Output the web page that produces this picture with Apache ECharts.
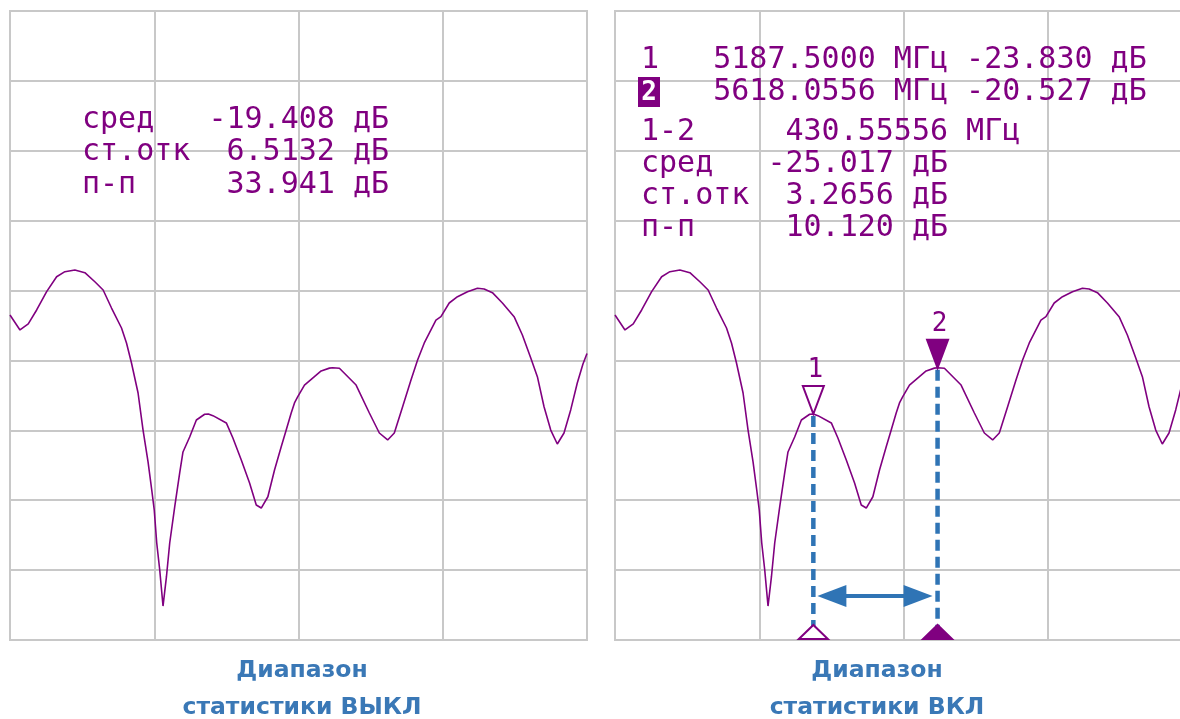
<!DOCTYPE html>
<html>
<head>
<meta charset="utf-8">
<script src="https://cdn.jsdelivr.net/npm/echarts@6/dist/echarts.min.js"></script>
<style>
html,body{margin:0;padding:0;background:#fff;}
#c{width:1180px;height:719px;}
</style>
</head>
<body>
<div id="c"></div>
<script>
// ---- data ----
const freqMHz = [4500, 4534.6, 4563.3, 4592.4, 4627, 4661.6, 4690.3, 4724.9, 4759.5, 4794.1, 4822.8, 4851.9, 4886.5, 4903.8, 4921.1, 4943.9, 4961.2, 4978.5, 4991.3, 5000, 5008.6, 5019, 5030.4, 5042.2, 5053.6, 5070.9, 5088.2, 5099.6, 5122.8, 5146, 5174.7, 5187.5, 5203.4, 5249.8, 5272.6, 5301.7, 5330.4, 5353.6, 5370.9, 5393.8, 5416.9, 5440.1, 5457.4, 5474.7, 5486.1, 5497.5, 5520.7, 5578.5, 5607.2, 5618.06, 5641.8, 5699.6, 5745.6, 5780.2, 5809, 5832.1, 5860.9, 5889.9, 5912.8, 5936, 5976.4, 5993.7, 6022.4, 6051.1, 6085.7, 6120.3, 6143.5, 6172.2, 6206.8, 6247.3, 6276, 6305.1, 6328, 6351.1, 6374.3, 6397.1, 6420.3, 6443.5, 6466.3, 6486, 6500];
const levelDb = [-16.75, -17.82, -17.39, -16.39, -15.08, -14.01, -13.65, -13.53, -13.72, -14.37, -14.96, -16.25, -17.68, -18.75, -20.18, -22.33, -24.98, -27.26, -29.27, -30.70, -33.06, -34.99, -37.57, -35.49, -33.06, -30.48, -28.05, -26.55, -25.48, -24.26, -23.85, -23.83, -23.95, -24.47, -25.55, -27.12, -28.77, -30.34, -30.56, -29.75, -27.84, -26.17, -24.98, -23.76, -23.04, -22.59, -21.76, -20.75, -20.55, -20.527, -20.56, -21.76, -23.76, -25.19, -25.69, -25.19, -23.31, -21.40, -19.97, -18.75, -17.11, -16.87, -15.89, -15.44, -15.08, -14.84, -14.89, -15.15, -15.89, -16.87, -18.18, -19.82, -21.16, -23.31, -24.98, -25.98, -25.19, -23.54, -21.61, -20.25, -19.5];
const markerFreq = [5187.5, 5618.0556];
const markerDb = [-23.83, -20.527];
const markerNames = ['1', '2'];
const statsOffLines = ['сред   -19.408 дБ', 'ст.отк  6.5132 дБ', 'п-п     33.941 дБ'];
const statsOnLines = ['1   5187.5000 МГц -23.830 дБ', '    5618.0556 МГц -20.527 дБ', '1-2     430.55556 МГц', 'сред   -25.017 дБ', 'ст.отк  3.2656 дБ', 'п-п     10.120 дБ'];
const panelCaptions = [['Диапазон', 'статистики ВЫКЛ'], ['Диапазон', 'статистики ВКЛ']];
const xMin = 4500, xMax = 6500, xStep = 500;
const yMin = -40, yMax = 5, yStep = 5;

// ---- styling ----
const PURPLE = '#800080';
const BLUE = '#2f74b5';
const GRIDC = '#c8c8c8';
const MONO = '"DejaVu Sans Mono", "Liberation Mono", monospace';

const trace = freqMHz.map((f, i) => [f, levelDb[i]]);

function axisPair(idx) {
  return {
    x: {
      type: 'value', gridIndex: idx, min: xMin, max: xMax, interval: xStep,
      axisLine: {show: false}, axisTick: {show: false}, axisLabel: {show: false},
      splitLine: {show: true, lineStyle: {color: GRIDC, width: 2}}
    },
    y: {
      type: 'value', gridIndex: idx, min: yMin, max: yMax, interval: yStep,
      axisLine: {show: false}, axisTick: {show: false}, axisLabel: {show: false},
      splitLine: {show: true, lineStyle: {color: GRIDC, width: 2}}
    }
  };
}
const a0 = axisPair(0), a1 = axisPair(1);

const graphics = [];
const offCenters = [120, 152.5, 185];
statsOffLines.forEach((t, i) => {
  graphics.push({type: 'text', x: 82, y: offCenters[i], z: 10,
    style: {text: t, font: '30px ' + MONO, fill: PURPLE, verticalAlign: 'middle'}});
});
const onCenters = [60.5, 92.5, 132.5, 164.5, 196, 228];
statsOnLines.forEach((t, i) => {
  graphics.push({type: 'text', x: 641, y: onCenters[i], z: 10,
    style: {text: t, font: '30px ' + MONO, fill: PURPLE, verticalAlign: 'middle'}});
});
graphics.push({type: 'rect', shape: {x: 638, y: 77, width: 22, height: 30}, z: 10,
  style: {fill: PURPLE}});
graphics.push({type: 'text', z: 11, x: 649, y: 93,
  style: {text: '2', font: 'bold 26px ' + MONO, fill: '#fff', align: 'center', verticalAlign: 'middle'}});
const capX = [302, 877];
panelCaptions.forEach((lines, p) => {
  lines.forEach((t, i) => {
    graphics.push({type: 'text', x: capX[p], y: 671 + i * 37, z: 10,
      style: {text: t, font: 'bold 23.5px "DejaVu Sans", sans-serif', fill: '#3a78b6',
        align: 'center', verticalAlign: 'middle'}});
  });
});

function renderMarkers(params, api) {
  const f = api.value(0), db = api.value(1), idx = api.value(2);
  const p = api.coord([f, db]);
  const b = api.coord([f, yMin]);
  const x = p[0], y = p[1], yb = b[1];
  const filled = idx === 1;
  const children = [];
  children.push({type: 'line', shape: {x1: x, y1: y + 2, x2: x, y2: yb - 14},
    style: {stroke: BLUE, lineWidth: 4.5, lineDash: [11, 6]}});
  children.push({type: 'polygon', shape: {points: [[x - 10.5, y - 28], [x + 10.5, y - 28], [x, y]]},
    style: {fill: filled ? PURPLE : '#fff', stroke: PURPLE, lineWidth: 2}});
  children.push({type: 'text', x: x + 2, y: y - 31,
    style: {text: markerNames[idx], font: '26px ' + MONO, fill: PURPLE, align: 'center', verticalAlign: 'bottom'}});
  children.push({type: 'polygon', shape: {points: [[x - 14.5, yb - 1], [x + 14.5, yb - 1], [x, yb - 15]]},
    style: {fill: filled ? PURPLE : '#fff', stroke: PURPLE, lineWidth: 2}});
  return {type: 'group', children: children};
}

function renderArrow(params, api) {
  const p1 = api.coord([markerFreq[0], yMin]);
  const p2 = api.coord([markerFreq[1], yMin]);
  const ya = p1[1] - 44;
  const x1 = p1[0] + 4, x2 = p2[0] - 5;
  return {type: 'group', children: [
    {type: 'line', shape: {x1: x1 + 10, y1: ya, x2: x2 - 10, y2: ya}, style: {stroke: BLUE, lineWidth: 4}},
    {type: 'polygon', shape: {points: [[x1, ya], [x1 + 29, ya - 11], [x1 + 29, ya + 11]]}, style: {fill: BLUE}},
    {type: 'polygon', shape: {points: [[x2, ya], [x2 - 29, ya - 11], [x2 - 29, ya + 11]]}, style: {fill: BLUE}}
  ]};
}

const chart = echarts.init(document.getElementById('c'), null, {renderer: 'canvas'});
chart.setOption({
  animation: false,
  backgroundColor: '#fff',
  grid: [
    {left: 10, top: 11, width: 577, height: 629, show: true, borderColor: GRIDC, borderWidth: 2,
      backgroundColor: 'transparent', outerBoundsMode: 'none', containLabel: false},
    {left: 615, top: 11, width: 577, height: 629, show: true, borderColor: GRIDC, borderWidth: 2,
      backgroundColor: 'transparent', outerBoundsMode: 'none', containLabel: false}
  ],
  xAxis: [a0.x, a1.x],
  yAxis: [a0.y, a1.y],
  graphic: graphics,
  series: [
    {type: 'line', xAxisIndex: 0, yAxisIndex: 0, data: trace, showSymbol: false, symbol: 'none',
      lineStyle: {color: PURPLE, width: 1.6}, z: 3},
    {type: 'line', xAxisIndex: 1, yAxisIndex: 1, data: trace, showSymbol: false, symbol: 'none',
      lineStyle: {color: PURPLE, width: 1.6}, z: 3},
    {type: 'custom', xAxisIndex: 1, yAxisIndex: 1, z: 4,
      data: markerFreq.map((f, i) => [f, markerDb[i], i]), renderItem: renderMarkers},
    {type: 'custom', xAxisIndex: 1, yAxisIndex: 1, z: 4,
      data: [[markerFreq[0], yMin]], renderItem: renderArrow}
  ]
});
</script>
</body>
</html>
